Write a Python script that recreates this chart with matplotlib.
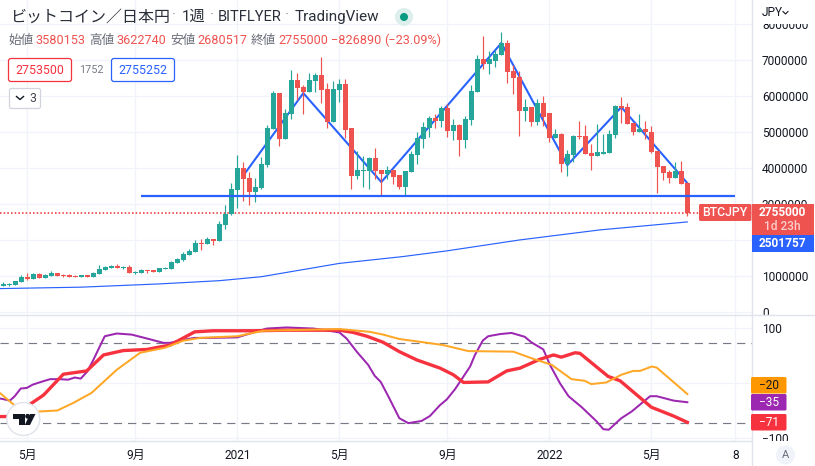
import numpy as np
import matplotlib
matplotlib.use("Agg")
import matplotlib.pyplot as plt
from matplotlib.patches import FancyBboxPatch, Circle, Polygon, Rectangle
from matplotlib.transforms import Bbox

plt.rcParams['font.family'] = ['Roboto', 'Noto Sans CJK JP', 'DejaVu Sans']

# weekly OHLC, in units of 10,000 JPY
opens = [72,76,75,83,97,92,106,94,100,108,103,103,100,97,103,97,106,117,122,128,122,125,109,108,117,117,111,119,119,136,144,158,167,192,189,203,197,242,272,339,400,372,333,344,408,508,608,481,550,644,625,611,642,658,619,528,617,633,511,378,392,392,428,394,383,394,381,347,389,436,481,511,539,531,567,503,519,478,533,611,703,689,697,714,747,669,653,558,569,528,581,553,483,494,411,436,489,489,442,433,439,442,492,572,569,525,500,508,500,447,406,389,372,392,358.0153]
highs = [83,81,86,103,108,107,108,105,114,108,106,106,103,103,103,111,131,128,131,133,128,131,114,119,117,117,122,125,142,150,167,175,200,203,208,203,253,297,357,436,417,389,372,431,519,614,608,564,672,664,631,664,664,708,636,642,647,647,511,447,433,431,456,394,406,394,381,392,447,500,528,544,550,572,578,536,522,544,631,714,767,725,728,778,756,686,669,592,569,592,600,553,508,497,450,492,531,519,467,522,494,506,575,597,581,525,550,531,517,447,406,394,417,419,362.274]
lows = [72,72,75,83,89,92,94,94,100,100,97,97,97,97,98,97,106,117,122,122,119,108,106,108,108,111,111,119,119,136,142,158,167,172,189,186,197,231,269,289,308,297,306,342,403,508,461,481,536,589,550,611,611,581,511,528,584,483,342,369,348,342,369,323,369,356,342,325,389,411,456,486,511,514,486,478,433,456,519,611,675,661,681,714,636,606,489,531,517,519,517,472,483,389,378,417,481,439,394,433,439,442,483,525,522,492,500,481,442,331,367,358,372,356,268.0517]
closes = [78,78,86,97,92,106,94,103,108,100,100,97,98,103,98,108,119,125,128,122,125,108,111,117,115,111,122,122,139,147,161,169,192,189,203,197,244,272,342,400,369,333,347,411,511,608,481,553,644,622,611,644,658,617,528,619,633,506,378,394,394,428,392,383,394,375,347,392,439,483,514,539,531,567,503,519,478,536,614,703,689,703,717,747,667,650,558,569,528,581,542,482,494,411,439,489,486,439,433,444,444,494,572,567,522,500,508,500,444,403,386,372,392,356,275.5]

# long moving average, read at selected weeks
ma_weeks = [-0.6,13,26,36,43,56,66.6,74,86,99.4,114]
ma_vals = [65,69,78,87,98,135,154,170,200,228,250.1757]

# drawn pattern
pat_weeks = [40.3,50,63,83,94,103,114]
pat_vals = [386,608,361,747,408,569,358]
neck_weeks = [22.9,121.9]
neck_vals = [322,322]

# oscillators
pur_w = [-0.6,1.1,1.9,2.9,3.9,4.9,6,7.8,9.4,10.8,11.9,12.9,14,15,16.9,18.9,21.4,23.9,26.7,27.8,29.7,31.9,34.4,39,41.7,43.9,47.2,51.7,53.6,56,57.2,58.9,60.8,61.9,62.9,64.2,66,67.5,69.7,71.1,72.8,73.9,75.3,77.8,78.6,79.9,80.8,82.8,84.7,86.9,88,90,91.1,92.8,94.2,96.4,98.9,100,100.9,103,104.7,107.8,108.9,111.7,114]
pur_v = [-28,-32,-24,-10,-9,-3,1,7,7,6,10,8,21,42,85,90,88,81,73,73,78,82,82,83,92,99,101,99,96,92,81,57,33,13,2,-25,-64,-73,-69,-60,-40,-30,-11,30,51,77,85,89,91,84,74,61,33,-1,-24,-44,-70,-84,-85,-64,-52,-24,-24,-32,-35]
red_w = [-0.6,0.7,4.4,6.7,10,13.9,16.7,20,23.9,27.8,31.9,35,41.7,47.2,56,58.3,60.6,63.3,66,68.9,72.8,75,76.7,80.8,83.9,86.1,89.4,91.7,93,95.3,96.1,100.8,102.8,108,111.7,114]
red_v = [-61,-61,-39,-22,16,22,51,59,61,69,93,95,95,96,96,92,85,74,57,42,27,15,1,2,22,27,43,51,47,55,54,12,4,-44,-60,-71.5]
ora_w = [-0.6,1.8,5.6,9,11.7,14.7,17.2,18.9,22.8,26.9,30,32.8,39,43.3,47.2,56.1,61.1,63.3,66,69.4,73.3,77.5,85,88.3,91.4,94.7,96.9,98,100.5,103,105,106.1,108.1,108.9,114]
ora_v = [-18,-40,-52,-50,-36,-18,7,24,55,64,77,82,85,95,96,98,93,88,80,75,69,58,57,44,33,7,4,-2,1,15,22,22,30,28,-20]
band_levels = [72,-72]

price_ticks = [0,1000000,2000000,3000000,4000000,5000000,6000000,7000000,8000000]
price_labels = ['0','1000000','','3000000','4000000','5000000','6000000','7000000','8000000']
time_ticks = [4,22,39,56,74,91,108,122]
time_labels = ['5月','9月','2021','5月','9月','2022','5月','8']

W, H = 815, 466
UP, DOWN = '#26a69a', '#ef5350'
BLUE = '#2962ff'
GRID = '#f0f3fa'
EDGE = '#e0e3eb'
TXT = '#131722'
RED2 = '#f7323f'
PUR = '#9c27b0'
ORA = '#ffa726'
fs = 8.6

fig = plt.figure(figsize=(W/100, H/100), dpi=100, facecolor='white')

def rect(x0, y0, x1, y1):
    return [x0/W, 1-y1/H, (x1-x0)/W, (y1-y0)/H]

x_left = -3.33/6
x_right = (752-3.33)/6

ax = fig.add_axes(rect(0, 0, 752, 315))
ax.set_xlim(x_left, x_right)
ax.set_ylim(-8.333e4, 866.667e4)
wk = np.arange(len(closes))
o, h, l, c = [np.array(a, float)*1e4 for a in (opens, highs, lows, closes)]
cols = [UP if c[i] > o[i] else DOWN for i in wk]
ax.plot(pat_weeks, np.array(pat_vals)*1e4, color=BLUE, lw=1.5, zorder=2, solid_joinstyle='miter')
ax.vlines(wk, l, h, colors=cols, lw=0.85, zorder=3)
ax.bar(wk, np.abs(c-o), bottom=np.minimum(o, c), width=5/6, color=cols, lw=0, zorder=3.1)
ax.plot(ma_weeks, np.array(ma_vals)*1e4, color=BLUE, lw=0.85, zorder=4)
ax.plot(neck_weeks, np.array(neck_vals)*1e4, color=BLUE, lw=1.6, zorder=4, solid_capstyle='butt')
ax.axhline(c[-1], color='#ef2b2b', lw=1.1, ls=(0, (1, 1.4)), zorder=1.5)
ax.set_yticks(price_ticks)
ax.set_yticklabels(price_labels)
ax.set_xticks(time_ticks)
ax.tick_params(axis='x', length=0, labelbottom=False)
ax.yaxis.tick_right()
ax.tick_params(axis='y', length=0, pad=7.2, labelsize=fs, labelcolor=TXT)
ax.grid(True, color=GRID, lw=0.9, zorder=0)
ax.set_axisbelow(True)
for s in ax.spines.values():
    s.set_visible(False)
clip = Bbox.from_extents(752, H-315, 815, H-24)
for t in ax.get_yticklabels():
    t.set_clip_on(True)
    t.set_clip_box(clip)

ax2 = fig.add_axes(rect(0, 315, 752, 441))
ax2.set_xlim(x_left, x_right)
ax2.set_ylim(-105.45, 123.64)
for lv in band_levels:
    ax2.axhline(lv, color='#787b86', lw=0.85, ls=(0, (7, 5)), zorder=1.5)
ax2.plot(pur_w, pur_v, color=PUR, lw=1.45, zorder=3)
ax2.plot(red_w, red_v, color=RED2, lw=2.4, zorder=3.2)
ax2.plot(ora_w, ora_v, color=ORA, lw=1.45, zorder=3.4)
ax2.set_yticks([-100, 0, 100])
ax2.set_yticklabels(['\u2212100', '', '100'])
ax2.yaxis.tick_right()
ax2.tick_params(axis='y', length=0, pad=7.2, labelsize=fs, labelcolor=TXT)
ax2.set_xticks(time_ticks)
ax2.set_xticklabels(time_labels)
ax2.tick_params(axis='x', length=0, pad=6, labelsize=fs, labelcolor=TXT)
ax2.grid(True, color=GRID, lw=0.9, zorder=0)
ax2.set_axisbelow(True)
for s in ax2.spines.values():
    s.set_visible(False)
clip2 = Bbox.from_extents(752, H-441, 815, H-315)
for t in ax2.get_yticklabels():
    t.set_clip_on(True)
    t.set_clip_box(clip2)

# chrome overlay in pixel coordinates
ov = fig.add_axes([0, 0, 1, 1], facecolor='none')
ov.set_xlim(0, W)
ov.set_ylim(H, 0)
ov.axis('off')
ov.set_zorder(10)

ov.plot([752, 752], [0, H], color=EDGE, lw=1, zorder=1)
ov.plot([0, W], [315, 315], color=EDGE, lw=1, zorder=1)
ov.plot([0, 752], [441, 441], color=EDGE, lw=1, zorder=1)

def txt(x, y, s, color=TXT, size=fs, ha='left', weight='normal', z=6):
    return ov.text(x, y, s, color=color, fontsize=size, ha=ha, va='center', fontweight=weight, zorder=z)

# title
tsize = 11.5
txt(10, 17, 'ビットコイン／日本円', size=tsize, color='#2a2e39')
txt(182, 17, '1週', size=tsize-0.5, color='#2a2e39')
txt(218, 17, 'BITFLYER', size=tsize-1, color='#2a2e39')
txt(295, 17, 'TradingView', size=tsize-0.5, color='#2a2e39')
for x in (174, 212, 287):
    txt(x, 15, '·', size=tsize, color='#9598a1', ha='center')
ov.add_patch(Circle((404, 17), 9, fc='#dcefec', ec='none'))
ov.add_patch(Circle((404, 17), 4, fc='#089981', ec='none'))
txt(762, 12.5, 'JPY', size=fs)
ov.plot([783, 785.5, 788], [11.5, 14, 11.5], color=TXT, lw=0.8)

# OHLC line
osize = 9.1
for x, lab in zip((8, 89, 170, 251), ('始値', '高値', '安値', '終値')):
    txt(x, 40.5, lab, size=osize, color='#6a6d78')
for x, lab in zip((35.5, 116, 197, 278), ('3580153', '3622740', '2680517', '2755000')):
    txt(x, 40.5, lab, size=osize, color=DOWN)
txt(331, 40.5, '\u2212826890', size=osize, color=DOWN)
txt(384, 40.5, '(\u221223.09%)', size=osize, color=DOWN)

# order boxes
for x0, x1, col, lab in ((8.5, 71.5, '#f7323f', '2753500'), (111.5, 174.5, BLUE, '2755252')):
    ov.add_patch(FancyBboxPatch((x0+2, 58.5+2), x1-x0-4, 23-4, boxstyle='round,pad=2,rounding_size=2.5',
                                fc='white', ec=col, lw=0.9, zorder=5))
    txt((x0+x1)/2, 70.5, lab, color=col, size=8.9, ha='center')
txt(91, 70, '1752', color='#787b86', size=7.8, ha='center')
ov.add_patch(FancyBboxPatch((9.5+2, 88.5+2), 31-4, 20-4, boxstyle='round,pad=2,rounding_size=2',
                            fc='white', ec='#d1d4dc', lw=0.9, zorder=5))
ov.plot([16.5, 20, 23.5], [96.5, 99.5, 96.5], color=TXT, lw=1, zorder=6)
txt(29, 98.5, '3', color='#434651', size=8.8)

# price labels
ov.add_patch(FancyBboxPatch((700, 205), 50.5, 15, boxstyle='round,pad=1,rounding_size=1.5', fc=DOWN, ec='none', zorder=5))
txt(725, 212.5, 'BTCJPY', color='white', size=8.8, ha='center', weight='medium')
ov.add_patch(Rectangle((752, 204), 61.5, 31, fc=DOWN, ec='none', zorder=5))
txt(782.5, 212.5, '2755000', color='white', size=8.6, ha='center', weight='bold')
txt(782.5, 226.5, '1d 23h', color='#fbcfcd', size=8.6, ha='center', weight='medium')
ov.add_patch(Rectangle((752, 235), 61.5, 16.5, fc=BLUE, ec='none', zorder=5))
txt(782.5, 243.5, '2501757', color='white', size=8.6, ha='center', weight='bold')

ov.add_patch(FancyBboxPatch((752, 378), 33.5, 14.5, boxstyle='round,pad=1,rounding_size=1.5', fc='#ff9800', ec='none', zorder=5))
txt(769, 385.5, '\u221220', color=TXT, size=fs, ha='center')
ov.add_patch(FancyBboxPatch((752, 395), 33.5, 14.5, boxstyle='round,pad=1,rounding_size=1.5', fc=PUR, ec='none', zorder=5))
txt(769, 402.5, '\u221235', color='white', size=fs, ha='center')
ov.add_patch(FancyBboxPatch((752, 415), 33.5, 14.5, boxstyle='round,pad=1,rounding_size=1.5', fc=RED2, ec='none', zorder=5))
txt(769, 422.5, '\u221271', color='white', size=fs, ha='center')

# auto scale badge
ov.add_patch(Circle((785.5, 455), 9.5, fc=GRID, ec='none', zorder=5))
txt(785.5, 455, 'A', color='#6a6d78', size=8, ha='center')

# logo
ov.add_patch(Circle((23.3, 419), 16.5, fc='white', ec='#e0e3eb', lw=1, zorder=7))
LOGO = '#131722'
ov.add_patch(Polygon([(13, 414), (25, 414), (25, 425), (19, 425), (19, 419), (13, 419)], fc=LOGO, ec='none', zorder=8))
ov.add_patch(Circle((27.6, 416.3), 2.4, fc=LOGO, ec='none', zorder=8))
ov.add_patch(Polygon([(30, 414), (35.5, 414), (30, 425), (24.8, 425)], fc=LOGO, ec='none', zorder=8))

fig.savefig('out.png', dpi=100, facecolor='white')
